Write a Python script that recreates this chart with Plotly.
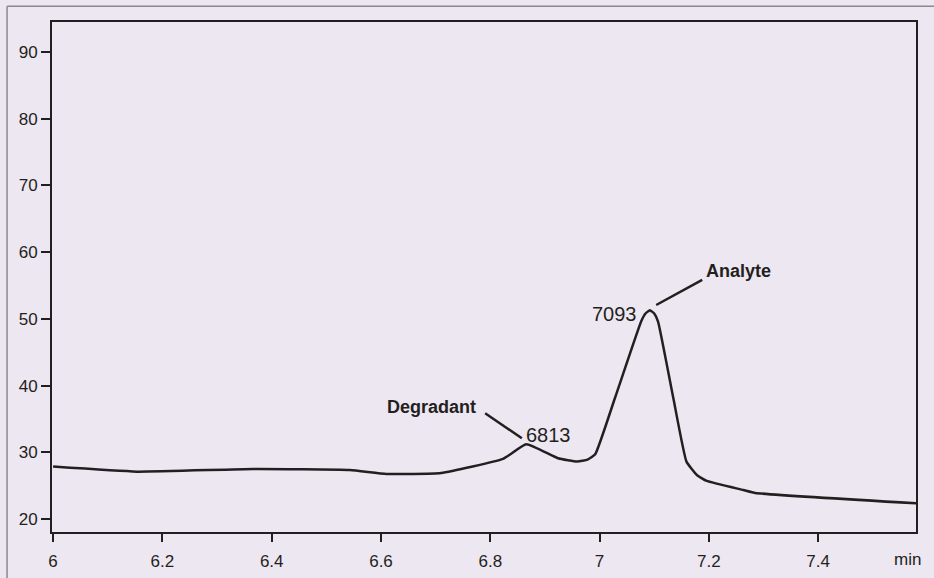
import plotly.graph_objects as go

# Chromatogram trace (retention time in min, signal)
time = [6.0, 6.153, 6.366, 6.543, 6.61, 6.71, 6.823, 6.866, 6.924, 6.959, 6.978, 6.992,
        7.028, 7.076, 7.084, 7.092, 7.100, 7.107, 7.135, 7.159, 7.178, 7.196, 7.263, 7.285, 7.579]
signal = [27.85, 27.1, 27.5, 27.35, 26.75, 26.9, 29.0, 31.2, 29.1, 28.6, 28.9, 29.7,
          38.1, 49.6, 50.8, 51.3, 50.8, 49.6, 38.1, 28.6, 26.6, 25.7, 24.35, 23.9, 22.35]

x_ticks = [6.0, 6.2, 6.4, 6.6, 6.8, 7.0, 7.2, 7.4]
x_tick_labels = ["6", "6.2", "6.4", "6.6", "6.8", "7", "7.2", "7.4"]
y_ticks = [20, 30, 40, 50, 60, 70, 80, 90]

peak_names = ["Degradant", "Analyte"]
peak_values = ["6813", "7093"]

BG = "#EDE7F1"
INK = "#231F20"
NARROW = "Liberation Sans Narrow, Arial Narrow, Liberation Sans, Arial, sans-serif"
REG = "Liberation Sans, Arial, Helvetica, sans-serif"

fig = go.Figure()
fig.add_trace(go.Scatter(x=time, y=signal, mode="lines",
                         line=dict(color=INK, width=2.5, shape="spline", smoothing=0.4),
                         hoverinfo="skip"))

ann = []
# bold peak names
ann.append(dict(x=6.6918, y=36.75, text="<b>%s</b>" % peak_names[0], showarrow=False,
                xanchor="center", yanchor="middle", font=dict(family=REG, size=18, color=INK)))
ann.append(dict(x=7.2537, y=57.2, text="<b>%s</b>" % peak_names[1], showarrow=False,
                xanchor="center", yanchor="middle", font=dict(family=REG, size=18, color=INK)))
# peak values
ann.append(dict(x=6.9059, y=32.6, text=peak_values[0], showarrow=False,
                xanchor="center", yanchor="middle", font=dict(family=NARROW, size=20, color=INK)))
ann.append(dict(x=7.0725, y=50.75, text=peak_values[1], showarrow=False,
                xanchor="right", yanchor="middle", font=dict(family=NARROW, size=20, color=INK)))
# axis unit
ann.append(dict(x=0.9896, y=-0.053, xref="paper", yref="paper", text="min", showarrow=False,
                xanchor="center", yanchor="middle", font=dict(family=NARROW, size=17, color=INK)))

shapes = [
    dict(type="line", x0=6.7906, y0=35.84, x1=6.8578, y1=32.10, xref="x", yref="y",
         line=dict(color=INK, width=2.5)),
    dict(type="line", x0=7.1036, y0=52.08, x1=7.1878, y1=55.83, xref="x", yref="y",
         line=dict(color=INK, width=2.5)),
    # outer page frame (top and left edges)
    dict(type="line", x0=-0.052, y0=1.031, x1=1.03, y1=1.031, xref="paper", yref="paper",
         line=dict(color="#8A8A8A", width=1.5)),
    dict(type="line", x0=-0.052, y0=1.031, x1=-0.052, y1=-0.1, xref="paper", yref="paper",
         line=dict(color="#8A8A8A", width=1.5)),
]

fig.update_layout(
    width=934, height=578,
    margin=dict(l=52, r=18, t=22, b=46),
    paper_bgcolor=BG, plot_bgcolor=BG,
    showlegend=False,
    annotations=ann, shapes=shapes,
    font=dict(family=NARROW, size=17, color=INK),
)
fig.update_xaxes(range=[5.998, 7.579], tickvals=x_ticks, ticktext=x_tick_labels,
                 showgrid=False, zeroline=False, showline=True, linecolor=INK, linewidth=2,
                 mirror=True, ticks="outside", ticklen=8, tickwidth=2, tickcolor=INK,
                 ticklabelstandoff=5, automargin=False,
                 tickfont=dict(family=NARROW, size=17, color=INK))
fig.update_yaxes(range=[18.05, 94.5], tickvals=y_ticks, automargin=False,
                 showgrid=False, zeroline=False, showline=True, linecolor=INK, linewidth=2,
                 mirror=True, ticks="outside", ticklen=9, tickwidth=2, tickcolor=INK,
                 tickfont=dict(family=NARROW, size=17, color=INK))

fig.write_html("out.html")
